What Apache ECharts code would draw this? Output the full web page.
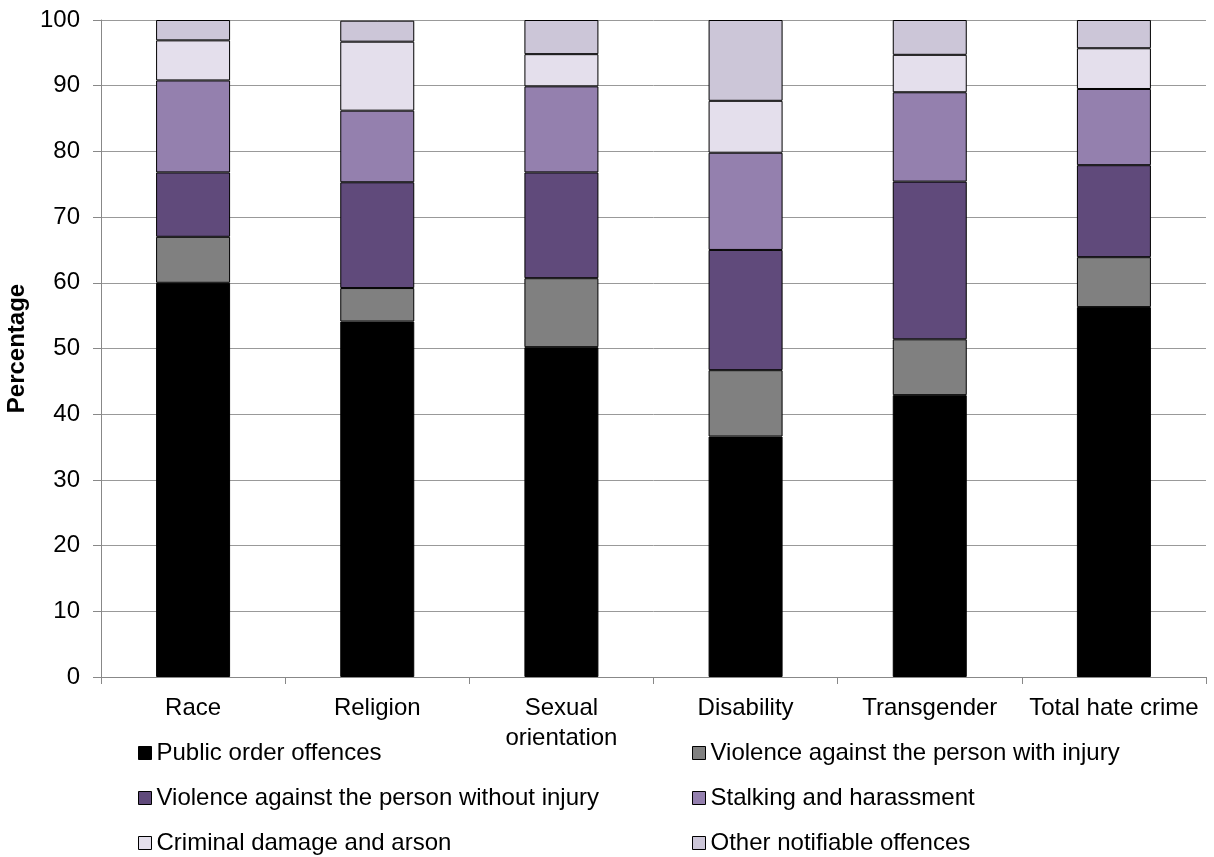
<!DOCTYPE html>
<html>
<head>
<meta charset="utf-8">
<script src="https://cdn.jsdelivr.net/npm/echarts@6/dist/echarts.min.js"></script>
<style>
  html, body { margin: 0; padding: 0; background: #fff; }
  #main { width: 1214px; height: 857px; }
</style>
</head>
<body>
<div id="main"></div>
<script>
var categories = ['Race', 'Religion', 'Sexual\norientation', 'Disability', 'Transgender', 'Total hate crime'];

var publicOrder      = [60.0, 54.1, 50.2, 36.6, 42.9, 56.3];
var withInjury       = [ 7.0,  5.1, 10.5, 10.1,  8.5,  7.6];
var withoutInjury    = [ 9.8, 16.1, 16.1, 18.3, 24.0, 14.0];
var stalking         = [14.0, 10.9, 13.1, 14.8, 13.6, 11.6];
var criminalDamage   = [ 6.1, 10.5,  4.9,  7.9,  5.7,  6.2];
var otherNotifiable  = [ 3.1,  3.2,  5.2, 12.3,  5.3,  4.3];

var yTicks = [0, 10, 20, 30, 40, 50, 60, 70, 80, 90, 100];

var font = '"Liberation Sans", Arial, sans-serif';

var dom = document.getElementById('main');
var myChart = echarts.init(dom);

function mkSeries(name, data, color) {
    return {
        name: name,
        type: 'bar',
        stack: 'all',
        barWidth: 74,
        data: data,
        itemStyle: {
            color: color,
            borderColor: '#000',
            borderWidth: 1
        }
    };
}

var legendText = { fontFamily: font, fontSize: 24, color: '#000' };

var option = {
    animation: false,
    backgroundColor: '#fff',
    grid: { left: 101, right: 8, top: 20, bottom: 180, containLabel: false, outerBoundsMode: 'none' },
    legend: [{
        orient: 'vertical',
        left: 138,
        top: 741,
        height: 140,
        padding: 0,
        itemWidth: 13,
        itemHeight: 13,
        itemGap: 21,
        icon: 'rect',
        textStyle: legendText,
        itemStyle: { borderColor: '#000', borderWidth: 1 },
        data: ['Public order offences', 'Violence against the person without injury', 'Criminal damage and arson']
    }, {
        orient: 'vertical',
        left: 692,
        top: 741,
        height: 140,
        padding: 0,
        itemWidth: 13,
        itemHeight: 13,
        itemGap: 21,
        icon: 'rect',
        textStyle: legendText,
        itemStyle: { borderColor: '#000', borderWidth: 1 },
        data: ['Violence against the person with injury', 'Stalking and harassment', 'Other notifiable offences']
    }],
    xAxis: {
        type: 'category',
        data: categories,
        axisLine: { lineStyle: { color: '#888', width: 1 } },
        axisTick: { show: true, length: 7, lineStyle: { color: '#888' } },
        axisLabel: {
            fontFamily: font, fontSize: 24, color: '#000',
            margin: 16, lineHeight: 30, interval: 0
        }
    },
    yAxis: {
        type: 'value',
        min: yTicks[0],
        max: yTicks[yTicks.length - 1],
        interval: 10,
        name: 'Percentage',
        nameLocation: 'middle',
        nameGap: 66,
        nameTextStyle: { fontFamily: font, fontSize: 24, fontWeight: 'bold', color: '#000' },
        axisLine: { show: true, lineStyle: { color: '#888', width: 1 } },
        axisTick: { show: true, length: 8, lineStyle: { color: '#888' } },
        axisLabel: { fontFamily: font, fontSize: 24, color: '#000', margin: 21 },
        splitLine: { show: true, lineStyle: { color: '#999', width: 1 } }
    },
    series: [
        mkSeries('Public order offences', publicOrder, '#000000'),
        mkSeries('Violence against the person with injury', withInjury, '#808080'),
        mkSeries('Violence against the person without injury', withoutInjury, '#604a7b'),
        mkSeries('Stalking and harassment', stalking, '#9480ae'),
        mkSeries('Criminal damage and arson', criminalDamage, '#e4dfec'),
        mkSeries('Other notifiable offences', otherNotifiable, '#ccc6d8')
    ]
};

myChart.setOption(option, true);
</script>
</body>
</html>
